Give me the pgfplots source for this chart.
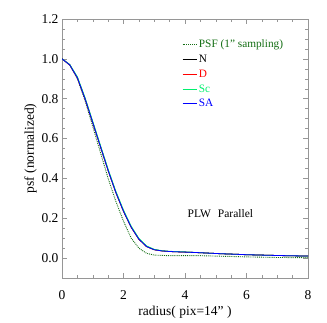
\documentclass[border=0pt]{standalone}
\usepackage{fontspec}
\setmainfont{Liberation Serif}
\usepackage{pgfplots}
\pgfplotsset{compat=1.18}
\definecolor{psfgreen}{RGB}{20,110,20}
\definecolor{scgreen}{RGB}{0,240,110}
\definecolor{axgray}{RGB}{150,150,150}
\pgfplotsset{legend image code/.code={\draw[#1] (0pt,0pt) -- (14pt,0pt);}}
\begin{document}
\begin{tikzpicture}
\begin{axis}[
  name=main,
  scale only axis,
  width=246pt, height=259pt,
  xmin=0, xmax=8, ymin=-0.1, ymax=1.2,
  xtick={0,2,4,6,8},
  ytick={0,0.2,0.4,0.6,0.8,1.0,1.2},
  minor x tick num=3,
  minor y tick num=3,
  tick align=inside,
  major tick length=5pt,
  minor tick length=3pt,
  axis line style={axgray},
  every tick/.style={axgray},
  yticklabel style={/pgf/number format/.cd, fixed, fixed zerofill, precision=1},
  xticklabel style={yshift=-9pt},
  /pgf/number format/assume math mode=true,
  tick label style={font=\fontsize{13.5}{15}\selectfont},
  label style={font=\fontsize{13.5}{15}\selectfont},
  xlabel={radius( pix=14\symbol{34} )},
  ylabel={psf (normalized)},
  xlabel style={yshift=0pt},
  ylabel style={yshift=-2pt},
  legend style={draw=none, fill=none, at={(0.475,0.935)}, anchor=north west,
    font=\fontsize{11.3}{13}\selectfont, row sep=1.8pt,
    legend cell align=left},
]
\addplot[psfgreen, densely dotted, line width=0.9pt] coordinates {
(0,1.0) (0.25,0.97) (0.5,0.90) (0.75,0.79) (1.0,0.66) (1.25,0.53) (1.5,0.40)
(1.75,0.285) (2.0,0.185) (2.25,0.10) (2.5,0.05) (2.75,0.024) (3.0,0.015)
(3.5,0.012) (4.0,0.012) (4.5,0.012) (5.0,0.010) (6.0,0.006) (7.0,0.003) (8.0,0.002)};
\addlegendentry{\textcolor{psfgreen}{PSF (1\symbol{34} sampling)}}
\addplot[black, line width=0.8pt] coordinates {
(0,1.0) (0.25,0.97) (0.5,0.905) (0.75,0.80) (1.0,0.68) (1.25,0.56) (1.5,0.44)
(1.75,0.33) (2.0,0.235) (2.25,0.155) (2.5,0.095) (2.75,0.058) (3.0,0.042)
(3.25,0.036) (3.5,0.033) (4.0,0.030) (4.5,0.027) (5.0,0.023) (6.0,0.017) (7.0,0.013) (8.0,0.010)};
\addlegendentry{N}
\addplot[red, line width=0.8pt] coordinates {
(0,1.0) (0.25,0.97) (0.5,0.905) (0.75,0.80) (1.0,0.68) (1.25,0.56) (1.5,0.44)
(1.75,0.33) (2.0,0.235) (2.25,0.155) (2.5,0.095) (2.75,0.058) (3.0,0.042)
(3.25,0.036) (3.5,0.033) (4.0,0.030) (4.5,0.027) (5.0,0.023) (6.0,0.017) (7.0,0.013) (8.0,0.010)};
\addlegendentry{\textcolor{red}{D}}
\addplot[scgreen, line width=0.8pt] coordinates {
(0,1.0) (0.25,0.972) (0.5,0.91) (0.75,0.805) (1.0,0.686) (1.25,0.566) (1.5,0.446)
(1.75,0.336) (2.0,0.241) (2.25,0.16) (2.5,0.099) (2.75,0.061) (3.0,0.044)
(3.25,0.037) (3.5,0.034) (4.0,0.031) (4.5,0.027) (5.0,0.023) (6.0,0.017) (7.0,0.013) (8.0,0.010)};
\addlegendentry{\textcolor{scgreen}{Sc}}
\addplot[blue, line width=0.8pt] coordinates {
(0,1.0) (0.25,0.97) (0.5,0.905) (0.75,0.80) (1.0,0.68) (1.25,0.56) (1.5,0.44)
(1.75,0.33) (2.0,0.235) (2.25,0.155) (2.5,0.095) (2.75,0.058) (3.0,0.042)
(3.25,0.036) (3.5,0.033) (4.0,0.030) (4.5,0.027) (5.0,0.023) (6.0,0.017) (7.0,0.013) (8.0,0.010)};
\addlegendentry{\textcolor{blue}{SA}}
\node[font=\fontsize{11.5}{13}\selectfont, anchor=center] at (axis cs:5.15,0.225) {PLW\hspace{0.6em}Parallel};
\end{axis}
\path ([shift={(-62pt,-39pt)}]main.south west) rectangle ([shift={(19pt,19pt)}]main.north east);
\end{tikzpicture}
\end{document}
